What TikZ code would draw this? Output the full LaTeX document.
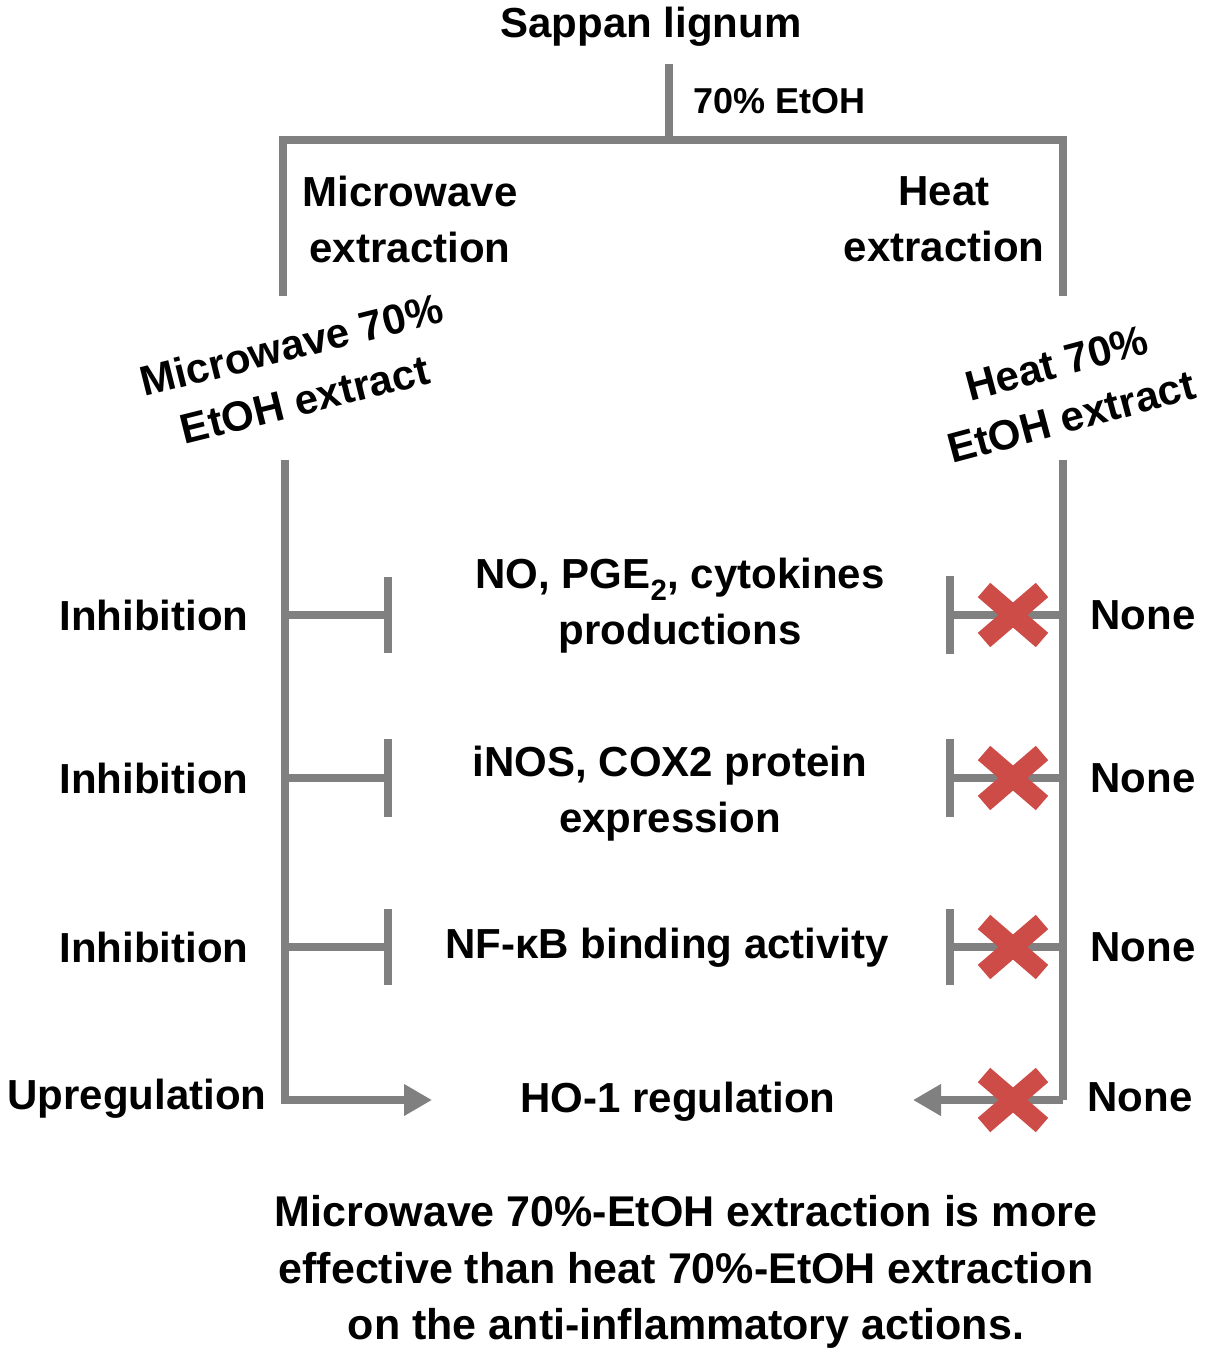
\documentclass[tikz,border=0pt]{standalone}
\usepackage{fontspec}
\setmainfont{Liberation Sans}
\usetikzlibrary{arrows.meta}
\definecolor{lgray}{RGB}{128,128,128}
\definecolor{xred}{RGB}{206,76,72}
\tikzset{
  lbl/.style={font=\fontsize{42}{56}\selectfont\bfseries, inner sep=0pt, align=center, text=black},
  small/.style={font=\fontsize{36}{44}\selectfont\bfseries, inner sep=0pt, text=black},
  conn/.style={draw=lgray, line width=8pt},
  crossline/.style={draw=xred, line width=19pt},
  arr/.style={conn, -{Triangle[length=28pt,width=30pt]}}
}
\begin{document}
\begin{tikzpicture}[x=1pt,y=-1pt]
\useasboundingbox (0,0) rectangle (1205,1356);
% texts
\node[lbl] (src) at (651,27) {Sappan lignum};
\node[small,anchor=west] (etoh) at (693,101) {70\% EtOH};
\node[lbl] (mwx) at (410,219) {Microwave\\extraction};
\node[lbl] (hx) at (944,219) {Heat\\extraction};
\node[lbl,rotate=14] (mwe) at (298,372) {Microwave 70\%\\EtOH extract};
\node[lbl,rotate=15] (he) at (1064,390) {Heat 70\%\\EtOH extract};
\node[lbl] (i1) at (154,615) {Inhibition};
\node[lbl] (i2) at (154,778) {Inhibition};
\node[lbl] (i3) at (154,947) {Inhibition};
\node[lbl] (up) at (137,1099) {Upregulation};
\node[lbl] (n1) at (1143,615) {None};
\node[lbl] (n2) at (1143,778) {None};
\node[lbl] (n3) at (1143,947) {None};
\node[lbl] (n4) at (1140,1097) {None};
\node[lbl] (t1) at (680,606) {NO, PGE\textsubscript{2}, cytokines\\productions};
\node[lbl] (t2) at (670,794) {iNOS, COX2 protein\\expression};
\node[lbl] (t3) at (667,948) {NF-κB binding activity};
\node[lbl] (t4) at (678,1102) {HO-1 regulation};
\node[lbl,font=\fontsize{43}{56.5}\selectfont\bfseries] (concl) at (686,1272) {Microwave 70\%-EtOH extraction is more\\effective than heat 70\%-EtOH extraction\\on the anti-inflammatory actions.};
% coordinates
\coordinate (top) at (669,64);
\coordinate (split) at (669,140);
\coordinate (lt) at (283,140);
\coordinate (rt) at (1063,140);
\coordinate (lb) at (283,296);
\coordinate (rb) at (1063,296);
\coordinate (lv1) at (285,460);
\coordinate (lv2) at (285,1100);
\coordinate (rv1) at (1063,460);
\coordinate (rv2) at (1063,1100);
% tree
\draw[conn] (top) -- (split);
\draw[conn] (lb) -- (lt) -- (rt) -- (rb);
\draw[conn] (lv1) -- (lv2) -- (400,1100);
\draw[conn] (rv1) -- (rv2);
% left inhibition bars
\foreach \y/\h in {615/38,778/39,947/38}{
  \draw[conn] (285,\y) -- (388,\y);
  \draw[conn] (388,\y-\h) -- (388,\y+\h);
}
\draw[arr] (285,1100) -- (432,1100);
% right inhibition bars
\foreach \y/\h in {615/39,778/39,947/38}{
  \draw[conn] (1063,\y) -- (950,\y);
  \draw[conn] (950,\y-\h) -- (950,\y+\h);
}
\draw[arr] (1063,1100) -- (913,1100);
% red crosses
\foreach \y in {615,778,947,1100}{
  \draw[crossline] (984,\y-25) -- (1042,\y+25);
  \draw[crossline] (984,\y+25) -- (1042,\y-25);
}
\end{tikzpicture}
\end{document}
